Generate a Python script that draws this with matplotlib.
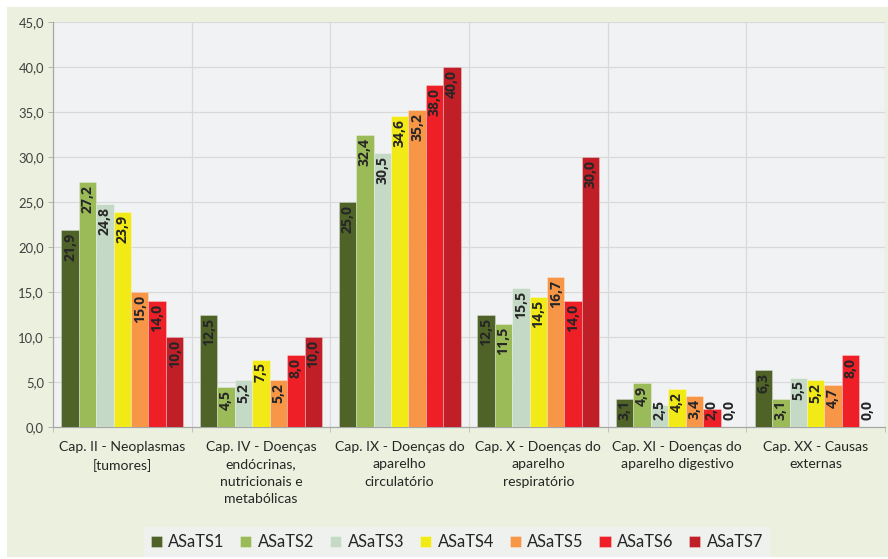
import matplotlib
matplotlib.use("Agg")
import matplotlib.pyplot as plt
import numpy as np
from matplotlib.patches import Rectangle

categories = ["Cap. II - Neoplasmas\n[tumores]",
              "Cap. IV - Doenças\nendócrinas,\nnutricionais e\nmetabólicas",
              "Cap. IX - Doenças do\naparelho\ncirculatório",
              "Cap. X - Doenças do\naparelho\nrespiratório",
              "Cap. XI - Doenças do\naparelho digestivo",
              "Cap. XX - Causas\nexternas"]
series_names = ["ASaTS1", "ASaTS2", "ASaTS3", "ASaTS4", "ASaTS5", "ASaTS6", "ASaTS7"]
asats1 = [21.9, 12.5, 25.0, 12.5, 3.1, 6.3]
asats2 = [27.2, 4.5, 32.4, 11.5, 4.9, 3.1]
asats3 = [24.8, 5.2, 30.5, 15.5, 2.5, 5.5]
asats4 = [23.9, 7.5, 34.6, 14.5, 4.2, 5.2]
asats5 = [15.0, 5.2, 35.2, 16.7, 3.4, 4.7]
asats6 = [14.0, 8.0, 38.0, 14.0, 2.0, 8.0]
asats7 = [10.0, 10.0, 40.0, 30.0, 0.0, 0.0]
series = [asats1, asats2, asats3, asats4, asats5, asats6, asats7]
colors = ["#4F6228", "#9BBB59", "#C4D9C6", "#F2EA16", "#F79646", "#EE1F26", "#C01F28"]
yticks = np.arange(0, 50, 5)

W, H = 888, 559
fig = plt.figure(figsize=(W / 72, H / 72), dpi=72)
fig.patch.set_facecolor("white")
fig.patches.append(Rectangle((7 / W, 1 - 557 / H), (888 - 7) / W, (557 - 7) / H,
                             transform=fig.transFigure, facecolor="#EBF1DE",
                             edgecolor="none", zorder=-10))
plt.rcParams["font.family"] = ["Lato", "DejaVu Sans"]

ax = fig.add_axes([53 / W, 1 - 427 / H, (885 - 53) / W, (427 - 22) / H])
ax.set_facecolor("#F1F2F4")

n = len(series)
gw = 0.88
bw = gw / n
x = np.arange(len(categories))
texts = []
for j, (vals, c, name) in enumerate(zip(series, colors, series_names)):
    xs = x - gw / 2 + bw * (j + 0.5)
    ax.bar(xs, vals, width=bw, color=c, edgecolor=(1, 1, 1, 0.35), linewidth=0.8,
           label=name, zorder=3)
    for xi, v in zip(xs, vals):
        t = ax.annotate(f"{v:.1f}".replace(".", ","), xy=(xi, v), xytext=(0, -3),
                        textcoords="offset points", rotation=90, ha="center", va="top",
                        fontsize=14, fontweight="bold", family=["Open Sans", "DejaVu Sans"],
                        color="#262626", zorder=5)
        texts.append((t, xi, v))

ax.set_xlim(-0.5, len(categories) - 0.5)
ax.set_ylim(0, 45)
ax.set_yticks(yticks)
ax.set_yticklabels([f"{v:.1f}".replace(".", ",") for v in yticks], fontsize=13, color="#404040")
ax.set_xticks(x)
ax.set_xticklabels(categories, fontsize=14, color="#262626", linespacing=1.53)
ax.tick_params(axis="x", length=0, pad=14)
ax.tick_params(axis="y", length=5, color="#A6A6A6", pad=4)
ax.set_xticks(np.arange(-0.5, len(categories), 1.0), minor=True)
ax.tick_params(axis="x", which="minor", length=5, color="#A6A6A6")
ax.grid(axis="y", color="#D9D9D9", linewidth=1.2, zorder=0)
ax.grid(axis="x", which="minor", color="#D9D9D9", linewidth=1.2, zorder=0)
ax.grid(axis="x", which="major", visible=False)
for s in ["top", "right"]:
    ax.spines[s].set_visible(False)
for s in ["left", "bottom"]:
    ax.spines[s].set_color("#A6A6A6")
    ax.spines[s].set_linewidth(1.2)

fig.canvas.draw()
r = fig.canvas.get_renderer()
base_px = ax.transData.transform((0, 0))[1]
for t, xi, v in texts:
    bb = t.get_window_extent(r)
    if bb.y0 < base_px + 7:
        t.xy = (xi, 0)
        t.set_position((0, 7))
        t.set_va("bottom")

leg = fig.legend(loc="center", bbox_to_anchor=(457 / W, 1 - 542 / H), ncol=7,
                 frameon=True, fontsize=16.5, handlelength=0.67, handleheight=0.67,
                 handletextpad=0.4, columnspacing=0.95, borderpad=0.4, fancybox=False)
leg.get_frame().set_facecolor("#F1F2F4")
leg.get_frame().set_edgecolor("none")
for tx in leg.get_texts():
    tx.set_color("#262626")

fig.savefig("out.png", dpi=72, facecolor=fig.get_facecolor())
